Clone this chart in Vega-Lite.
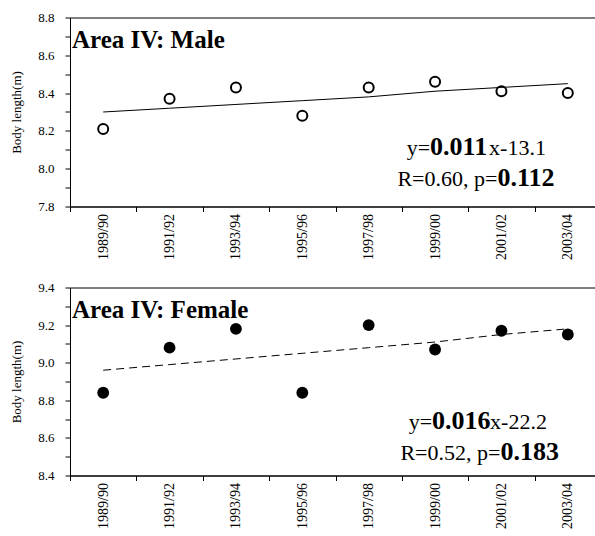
{
  "$schema": "https://vega.github.io/schema/vega-lite/v6.json",
  "padding": {"left": 10, "top": 10.5, "right": 0, "bottom": 0},
  "spacing": 20,
  "config": {
    "font": "Times New Roman, Liberation Serif, serif",
    "view": {"stroke": "black", "strokeWidth": 1},
    "axis": {"grid": false, "domainColor": "black", "tickColor": "black", "labelColor": "black", "titleColor": "black", "labelFont": "Times New Roman, Liberation Serif, serif", "titleFont": "Times New Roman, Liberation Serif, serif", "titleFontWeight": "normal", "tickSize": 5, "labelOverlap": false},
    "text": {"font": "Times New Roman, Liberation Serif, serif", "color": "black"}
  },
  "vconcat": [
    {
      "width": 531,
      "height": 189,
      "encoding": {
        "x": {"field": "season", "type": "ordinal", "sort": null, "bandPosition": 0.5,
          "scale": {"type": "band", "paddingInner": 0, "paddingOuter": 0},
          "axis": {"title": null, "labelAngle": -90, "labelFontSize": 14, "tickBand": "extent", "labelPadding": 2, "labelOverlap": false}},
        "y": {"field": "v", "type": "quantitative",
          "scale": {"domain": [7.8, 8.8], "nice": false, "zero": false},
          "axis": {"title": "Body length(m)", "titleFontSize": 13, "labelFontSize": 13, "labelPadding": 11, "titlePadding": 14, "labelOverlap": false, "labelBound": false, "labelFlush": false,
            "values": [7.8, 7.9, 8.0, 8.1, 8.2, 8.3, 8.4, 8.5, 8.6, 8.7, 8.8],
            "labelExpr": "round(datum.value*10) % 2 == 0 ? format(datum.value, '.1f') : ''"}}
      },
      "layer": [
        {"data": {"values": [
          {"season": "1989/90", "v": 8.30}, {"season": "1991/92", "v": 8.32}, {"season": "1993/94", "v": 8.34}, {"season": "1995/96", "v": 8.36},
          {"season": "1997/98", "v": 8.38}, {"season": "1999/00", "v": 8.41}, {"season": "2001/02", "v": 8.43}, {"season": "2003/04", "v": 8.45}]},
          "mark": {"type": "line", "color": "black", "strokeWidth": 1}},
        {"data": {"values": [
          {"season": "1989/90", "v": 8.21}, {"season": "1991/92", "v": 8.37}, {"season": "1993/94", "v": 8.43}, {"season": "1995/96", "v": 8.28},
          {"season": "1997/98", "v": 8.43}, {"season": "1999/00", "v": 8.46}, {"season": "2001/02", "v": 8.41}, {"season": "2003/04", "v": 8.40}]},
          "mark": {"type": "point", "shape": "circle", "filled": false, "stroke": "black", "strokeWidth": 2, "size": 100, "opacity": 1}},
        {"data": {"values": [{"season": "1989/90", "v": 8.636, "t": "Area IV: Male"}]},
          "mark": {"type": "text", "align": "left", "baseline": "alphabetic", "fontSize": 25, "fontWeight": "bold", "dx": 2},
          "encoding": {"x": {"field": "season", "type": "ordinal", "sort": null, "bandPosition": 0,
            "axis": {"title": null, "labelAngle": -90, "labelFontSize": 14, "tickBand": "extent", "labelPadding": 2, "labelOverlap": false}}, "text": {"field": "t"}}},
        {"data": {"values": [{"season": "1999/00", "v": 8.07, "t": "y="}]},
          "mark": {"type": "text", "align": "right", "baseline": "alphabetic", "fontSize": 22, "dx": -5},
          "encoding": {"text": {"field": "t"}}},
        {"data": {"values": [{"season": "1999/00", "v": 8.07, "t": "0.011"}]},
          "mark": {"type": "text", "align": "left", "baseline": "alphabetic", "fontSize": 26, "fontWeight": "bold", "dx": -5},
          "encoding": {"text": {"field": "t"}}},
        {"data": {"values": [{"season": "1999/00", "v": 8.07, "t": "x-13.1"}]},
          "mark": {"type": "text", "align": "left", "baseline": "alphabetic", "fontSize": 22, "dx": 54},
          "encoding": {"text": {"field": "t"}}},
        {"data": {"values": [{"season": "2001/02", "v": 7.91, "t": "R=0.60, p="}]},
          "mark": {"type": "text", "align": "right", "baseline": "alphabetic", "fontSize": 22, "dx": -4},
          "encoding": {"text": {"field": "t"}}},
        {"data": {"values": [{"season": "2001/02", "v": 7.91, "t": "0.112"}]},
          "mark": {"type": "text", "align": "left", "baseline": "alphabetic", "fontSize": 26, "fontWeight": "bold", "dx": -4},
          "encoding": {"text": {"field": "t"}}}
      ]
    },
    {
      "width": 531,
      "height": 188,
      "encoding": {
        "x": {"field": "season", "type": "ordinal", "sort": null, "bandPosition": 0.5,
          "scale": {"type": "band", "paddingInner": 0, "paddingOuter": 0},
          "axis": {"title": null, "labelAngle": -90, "labelFontSize": 14, "tickBand": "extent", "labelPadding": 2, "labelOverlap": false}},
        "y": {"field": "v", "type": "quantitative",
          "scale": {"domain": [8.4, 9.4], "nice": false, "zero": false},
          "axis": {"title": "Body length(m)", "titleFontSize": 13, "labelFontSize": 13, "labelPadding": 11, "titlePadding": 14, "labelOverlap": false, "labelBound": false, "labelFlush": false,
            "values": [8.4, 8.5, 8.6, 8.7, 8.8, 8.9, 9.0, 9.1, 9.2, 9.3, 9.4],
            "labelExpr": "round(datum.value*10) % 2 == 0 ? format(datum.value, '.1f') : ''"}}
      },
      "layer": [
        {"data": {"values": [
          {"season": "1989/90", "v": 8.96}, {"season": "1991/92", "v": 8.99}, {"season": "1993/94", "v": 9.02}, {"season": "1995/96", "v": 9.05},
          {"season": "1997/98", "v": 9.08}, {"season": "1999/00", "v": 9.11}, {"season": "2001/02", "v": 9.15}, {"season": "2003/04", "v": 9.18}]},
          "mark": {"type": "line", "color": "black", "strokeWidth": 1, "strokeDash": [8, 5]}},
        {"data": {"values": [
          {"season": "1989/90", "v": 8.84}, {"season": "1991/92", "v": 9.08}, {"season": "1993/94", "v": 9.18}, {"season": "1995/96", "v": 8.84},
          {"season": "1997/98", "v": 9.20}, {"season": "1999/00", "v": 9.07}, {"season": "2001/02", "v": 9.17}, {"season": "2003/04", "v": 9.15}]},
          "mark": {"type": "circle", "color": "black", "size": 140, "opacity": 1}},
        {"data": {"values": [{"season": "1989/90", "v": 9.24, "t": "Area IV: Female"}]},
          "mark": {"type": "text", "align": "left", "baseline": "alphabetic", "fontSize": 25, "fontWeight": "bold", "dx": 2},
          "encoding": {"x": {"field": "season", "type": "ordinal", "sort": null, "bandPosition": 0,
            "axis": {"title": null, "labelAngle": -90, "labelFontSize": 14, "tickBand": "extent", "labelPadding": 2, "labelOverlap": false}}, "text": {"field": "t"}}},
        {"data": {"values": [{"season": "1999/00", "v": 8.65, "t": "y="}]},
          "mark": {"type": "text", "align": "right", "baseline": "alphabetic", "fontSize": 22, "dx": -3},
          "encoding": {"text": {"field": "t"}}},
        {"data": {"values": [{"season": "1999/00", "v": 8.65, "t": "0.016"}]},
          "mark": {"type": "text", "align": "left", "baseline": "alphabetic", "fontSize": 26, "fontWeight": "bold", "dx": -3},
          "encoding": {"text": {"field": "t"}}},
        {"data": {"values": [{"season": "1999/00", "v": 8.65, "t": "x-22.2"}]},
          "mark": {"type": "text", "align": "left", "baseline": "alphabetic", "fontSize": 22, "dx": 55},
          "encoding": {"text": {"field": "t"}}},
        {"data": {"values": [{"season": "2001/02", "v": 8.48, "t": "R=0.52, p="}]},
          "mark": {"type": "text", "align": "right", "baseline": "alphabetic", "fontSize": 22, "dx": -1},
          "encoding": {"text": {"field": "t"}}},
        {"data": {"values": [{"season": "2001/02", "v": 8.48, "t": "0.183"}]},
          "mark": {"type": "text", "align": "left", "baseline": "alphabetic", "fontSize": 26, "fontWeight": "bold", "dx": -1},
          "encoding": {"text": {"field": "t"}}}
      ]
    }
  ]
}
